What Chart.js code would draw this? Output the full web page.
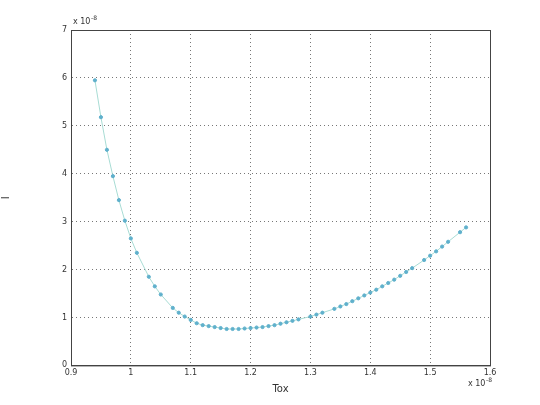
<!DOCTYPE html>
<html><head><meta charset="utf-8">
<script src="https://cdn.jsdelivr.net/npm/chart.js@4"></script>
<style>body{margin:0;background:#fff}#wrap{width:540px;height:405px}</style>
</head><body><div id="wrap"><canvas id="c"></canvas></div>
<script>
// values in units of 1e-8 (both axes)
const tox = [0.94,0.95,0.96,0.97,0.98,0.99,1.0,1.01,1.03,1.04,1.05,1.07,1.08,1.09,1.1,1.11,1.12,1.13,1.14,1.15,1.16,1.17,1.18,1.19,1.2,1.21,1.22,1.23,1.24,1.25,1.26,1.27,1.28,1.3,1.31,1.32,1.34,1.35,1.36,1.37,1.38,1.39,1.4,1.41,1.42,1.43,1.44,1.45,1.46,1.47,1.49,1.5,1.51,1.52,1.53,1.55,1.56];
const current = [5.95,5.18,4.5,3.95,3.45,3.02,2.65,2.35,1.85,1.65,1.48,1.2,1.1,1.02,0.95,0.88,0.84,0.82,0.8,0.78,0.76,0.76,0.76,0.77,0.78,0.79,0.8,0.82,0.84,0.87,0.9,0.93,0.96,1.02,1.06,1.1,1.18,1.23,1.28,1.34,1.4,1.46,1.52,1.58,1.65,1.72,1.79,1.87,1.95,2.03,2.2,2.29,2.38,2.48,2.58,2.78,2.88];

const font = { family: 'DejaVu Sans', size: 8 };
const exponentPlugin = {
  id: 'exponent',
  afterDraw(chart) {
    const { ctx, chartArea: a } = chart;
    ctx.save();
    ctx.strokeStyle = '#444';
    ctx.lineWidth = 1;
    ctx.strokeRect(a.left + 0.5, a.top + 0.5, a.right - a.left, a.bottom - a.top);
    ctx.fillStyle = '#333';
    ctx.font = '8px DejaVu Sans';
    ctx.textBaseline = 'alphabetic';
    ctx.fillText('x 10', a.left + 2, a.top - 6);
    ctx.fillText('x 10', a.right - 22, a.bottom + 21);
    ctx.font = '6px DejaVu Sans';
    ctx.fillText('-8', a.left + 20, a.top - 10);
    ctx.fillText('-8', a.right - 4, a.bottom + 17);
    ctx.restore();
  }
};

new Chart(document.getElementById('c'), {
  type: 'line',
  plugins: [exponentPlugin],
  data: {
    datasets: [{
      data: tox.map((x, i) => ({ x, y: current[i] })),
      borderColor: '#a8dcd4',
      borderWidth: 1,
      backgroundColor: '#5fb0cc',
      pointBorderColor: '#5fb0cc',
      pointRadius: 1.6,
      tension: 0,
    }]
  },
  options: {
    responsive: true,
    maintainAspectRatio: false,
    animation: false,
    layout: { padding: { left: 0, right: 50, top: 30, bottom: 8 } },
    plugins: { legend: { display: false }, tooltip: { enabled: false } },
    scales: {
      x: {
        type: 'linear', min: 0.9, max: 1.6,
        afterBuildTicks(s) { s.ticks = [0.9,1,1.1,1.2,1.3,1.4,1.5,1.6].map(v => ({ value: v })); },
        grid: { color: '#777', lineWidth: 1, drawTicks: false },
        border: { color: '#444', dash: [1, 3] },
        ticks: { color: '#333', font, padding: 3, callback: v => String(Math.round(v * 10) / 10) },
        title: { display: true, text: 'Tox', color: '#333', font: { family: 'DejaVu Sans', size: 10 }, padding: 2 },
      },
      y: {
        min: 0, max: 7,
        afterFit(s) { s.width = 71; },
        ticks: { stepSize: 1, color: '#333', font, padding: 4 },
        grid: { color: '#777', drawTicks: false },
        border: { color: '#444', dash: [1, 3] },
        title: { display: true, text: 'I', color: '#333', font: { family: 'DejaVu Sans', size: 10 }, padding: { top: 0, bottom: -40 } },
      }
    }
  }
});
</script></body></html>
